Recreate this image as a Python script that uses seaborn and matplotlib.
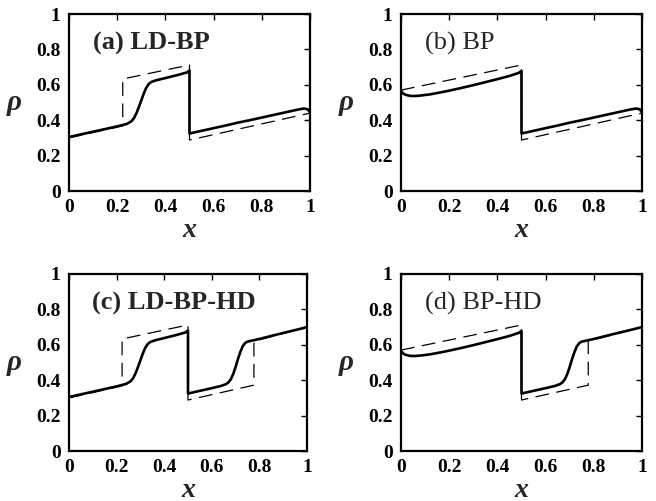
import numpy as np
import pandas as pd
import matplotlib
matplotlib.use("Agg")
import matplotlib.pyplot as plt
import seaborn as sns

# ---------------- data ----------------
# theory (dashed) profiles
dash_a_x = [0.0, 0.223, 0.223, 0.5, 0.5, 1.0]
dash_a_y = [0.300, 0.368, 0.633, 0.712, 0.288, 0.440]
dash_b_x = [0.0, 0.5, 0.5, 1.0]
dash_b_y = [0.570, 0.712, 0.288, 0.440]
dash_c_x = [0.0, 0.223, 0.223, 0.5, 0.5, 0.777, 0.777, 1.0]
dash_c_y = [0.300, 0.368, 0.633, 0.712, 0.288, 0.372, 0.620, 0.700]
dash_d_x = [0.0, 0.5, 0.5, 0.777, 0.777, 1.0]
dash_d_y = [0.570, 0.712, 0.288, 0.372, 0.620, 0.700]

# simulation (solid) profiles
left_ld_x = [0.0, 0.05, 0.10, 0.15, 0.20, 0.22, 0.24, 0.26, 0.27, 0.28, 0.29, 0.30,
             0.31, 0.32, 0.33, 0.34, 0.36, 0.40, 0.45, 0.49, 0.499]
left_ld_y = [0.305, 0.320, 0.335, 0.350, 0.365, 0.372, 0.379, 0.395, 0.413, 0.440, 0.475, 0.512,
             0.550, 0.582, 0.603, 0.615, 0.625, 0.638, 0.655, 0.670, 0.680]
left_bp_x = [0.0, 0.01, 0.02, 0.04, 0.06, 0.08, 0.12, 0.16, 0.20, 0.25, 0.30, 0.35,
             0.40, 0.45, 0.49, 0.499]
left_bp_y = [0.565, 0.550, 0.543, 0.537, 0.537, 0.539, 0.546, 0.556, 0.567, 0.582, 0.598, 0.615,
             0.632, 0.650, 0.668, 0.678]
right_bp_x = [0.501, 0.55, 0.60, 0.65, 0.70, 0.75, 0.80, 0.85, 0.90, 0.95, 0.975, 0.99, 1.0]
right_bp_y = [0.325, 0.340, 0.355, 0.370, 0.386, 0.400, 0.415, 0.430, 0.445, 0.460, 0.466, 0.462, 0.445]
right_hd_x = [0.501, 0.55, 0.60, 0.64, 0.66, 0.67, 0.68, 0.69, 0.70, 0.71, 0.72, 0.73,
              0.74, 0.75, 0.77, 0.80, 0.85, 0.90, 0.95, 1.0]
right_hd_y = [0.325, 0.340, 0.355, 0.368, 0.378, 0.388, 0.405, 0.435, 0.475, 0.520, 0.560, 0.592,
              0.610, 0.618, 0.624, 0.633, 0.650, 0.667, 0.683, 0.700]

panel_labels = ["(a) LD-BP", "(b) BP", "(c) LD-BP-HD", "(d) BP-HD"]
label_bold = [True, False, True, False]
ticks = [0, 0.2, 0.4, 0.6, 0.8, 1]
tick_labels = ["0", "0.2", "0.4", "0.6", "0.8", "1"]


def solid(lx, ly, rx, ry):
    return pd.DataFrame({"x": list(lx) + [0.5, 0.5] + list(rx),
                         "rho": list(ly) + [ly[-1], ry[0]] + list(ry)})


solids = [solid(left_ld_x, left_ld_y, right_bp_x, right_bp_y),
          solid(left_bp_x, left_bp_y, right_bp_x, right_bp_y),
          solid(left_ld_x, left_ld_y, right_hd_x, right_hd_y),
          solid(left_bp_x, left_bp_y, right_hd_x, right_hd_y)]
dashes = [pd.DataFrame({"x": dash_a_x, "rho": dash_a_y}),
          pd.DataFrame({"x": dash_b_x, "rho": dash_b_y}),
          pd.DataFrame({"x": dash_c_x, "rho": dash_c_y}),
          pd.DataFrame({"x": dash_d_x, "rho": dash_d_y})]

# ---------------- figure ----------------
sns.set_theme(style="white")
plt.rcParams["font.family"] = ["Liberation Serif", "DejaVu Serif"]

fig = plt.figure(figsize=(6.56, 5.01), dpi=100)
W, H = 656, 501
boxes = [(69, 310, 14, 191), (401, 642, 14, 191), (69, 307, 274, 451), (401, 642, 274, 451)]

for i, (l, r, t, b) in enumerate(boxes):
    ax = fig.add_axes([l / W, 1 - b / H, (r - l) / W, (b - t) / H])
    sns.lineplot(data=dashes[i], x="x", y="rho", ax=ax, sort=False, color="black",
                 lw=0.9, linestyle=(0, (11, 6)), estimator=None)
    sns.lineplot(data=solids[i], x="x", y="rho", ax=ax, sort=False, color="black",
                 lw=1.9, estimator=None)
    ax.set_xlim(0, 1)
    ax.set_ylim(0, 1)
    ax.set_xticks(ticks)
    ax.set_xticklabels(tick_labels, fontsize=14, fontweight="bold")
    ax.set_yticks(ticks)
    ax.set_yticklabels(tick_labels, fontsize=14, fontweight="bold")
    ax.tick_params(direction="in", length=4, width=1, top=True, right=True, pad=6,
                   colors="black")
    for s in ax.spines.values():
        s.set_linewidth(1.6)
        s.set_color("black")
    ax.set_xlabel("x", fontsize=20, fontstyle="italic", fontweight="bold", labelpad=1)
    ax.set_ylabel("ρ", fontsize=21, fontstyle="italic", fontweight="bold", rotation=0,
                  labelpad=16, va="center")
    ax.text(0.10 if i != 2 else 0.095, 0.80, panel_labels[i], fontsize=19,
            fontweight="bold" if label_bold[i] else "normal", ha="left", va="baseline",
            transform=ax.transData)

fig.savefig("out.png", dpi=100)
